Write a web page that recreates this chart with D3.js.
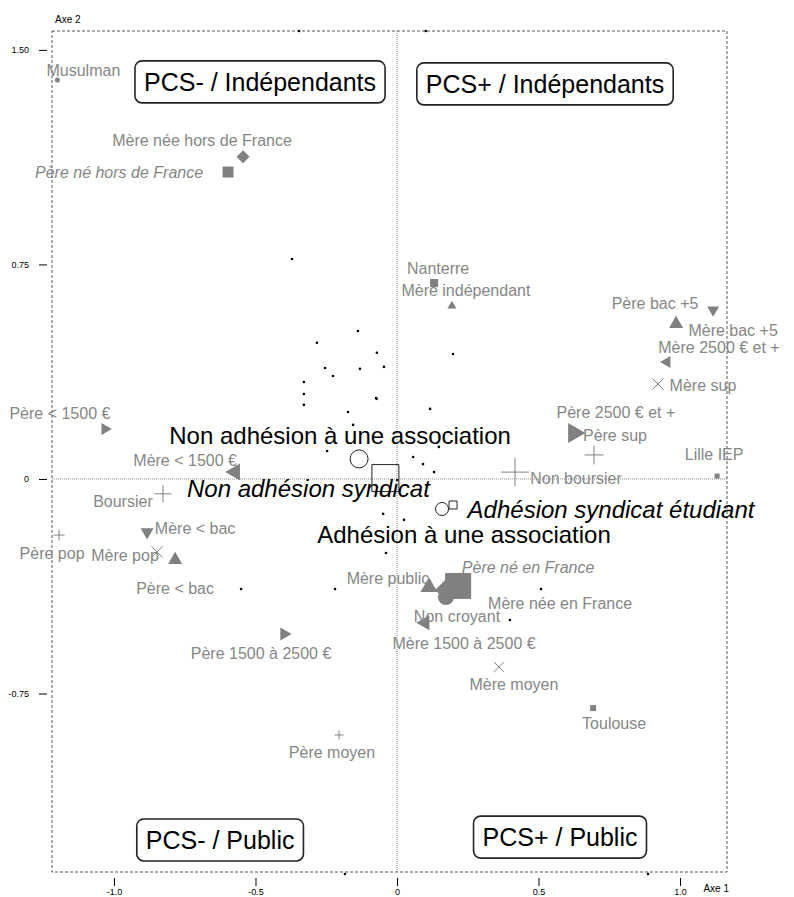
<!DOCTYPE html>
<html><head><meta charset="utf-8">
<script src="https://cdn.jsdelivr.net/npm/d3@7"></script>
<style>body{margin:0;background:#fff} svg{display:block;font-family:"Liberation Sans",Arial,Helvetica,sans-serif}</style>
</head><body><svg id="c" width="794" height="897"></svg>
<script>
// ---------- DATA ----------
const categories = ["Musulman","Mère née hors de France","Père né hors de France","Nanterre","Mère indépendant","Père bac +5","Mère bac +5","Mère 2500 € et +","Mère sup","Père 2500 € et +","Père sup","Non boursier","Lille IEP","Père < 1500 €","Mère < 1500 €","Boursier","Père pop","Mère < bac","Mère pop","Père < bac","Père 1500 à 2500 €","Mère public","Mère née en France","Non croyant","Père né en France","Mère 1500 à 2500 €","Mère moyen","Toulouse","Père moyen"];
const axis1 = [-1.20,-0.544,-0.597,0.131,0.194,0.986,1.117,0.954,0.922,0.625,0.696,0.417,1.131,-1.032,-0.572,-0.827,-1.194,-0.883,-0.848,-0.784,-0.399,0.113,0.177,0.173,0.216,0.099,0.360,0.693,-0.205];
const axis2 = [1.395,1.126,1.073,0.685,0.605,0.542,0.591,0.409,0.332,0.161,0.084,0.024,0.010,0.175,0.024,-0.052,-0.196,-0.185,-0.255,-0.283,-0.542,-0.378,-0.388,-0.413,-0.374,-0.503,-0.657,-0.801,-0.895];

const supNames = ["Non adhésion à une association","Non adhésion syndicat","Adhésion syndicat étudiant","Adhésion à une association"];
const supAxis1 = [-0.134,-0.041,0.198,0.159];
const supAxis2 = [0.070,0.003,-0.091,-0.105];

const indAxis1 = [-0.371,-0.138,-0.283,-0.071,-0.254,-0.131,-0.046,-0.226,-0.329,-0.329,-0.329,-0.074,-0.072,-0.173,-0.155,-0.247,0.198,0.117,0.148,0.057,0.092,0.131,-0.049,0.025,-0.039,-0.219,-0.551,0.509,0.399,-0.346,0.102,-0.184,0.887];
const indAxis2 = [0.769,0.517,0.476,0.441,0.388,0.385,0.392,0.360,0.339,0.297,0.259,0.283,0.280,0.234,0.189,0.098,0.437,0.245,0.112,0.077,0.052,0.024,-0.122,-0.143,-0.259,-0.385,-0.385,-0.385,-0.493,1.566,1.566,-1.381,-1.381];

const quadLabels = ["PCS- / Indépendants","PCS+ / Indépendants","PCS- / Public","PCS+ / Public"];
const quadAxis1 = [-0.484,0.523,-0.625,0.576];
const quadAxis2 = [1.388,1.381,-1.262,-1.252];

const xTicks = [-1.0,-0.5,0,0.5,1.0];
const xTickLabels = ["-1.0","-0.5","0","0.5","1.0"];
const yTicks = [1.5,0.75,0,-0.75];
const yTickLabels = ["1.50","0.75","0","-0.75"];

// ---------- STYLE / LAYOUT (kept apart from data) ----------
const catShape = ["circle","diamond","square","square","triUp","triUp","triDown","triLeft","cross","triRight","plus","plus","square","triRight","triLeft","plus","plus","triDown","cross","triUp","triRight","triUp","diamond","circle","square","triLeft","cross","square","plus"];
const catSize  = [5,13,11,8,9,14,12,12,11,20,19,28,5,12,17,17,11,13,11,14,13,17,24,16,26,15,10,6,9];
const catItalic = [0,0,1,0,0,0,0,0,0,0,0,0,0,0,0,0,0,0,0,0,0,0,0,0,1,0,0,0,0];
const catLabelOffset = [[26,-10],[-41,-16],[-109,0],[4,-15],[14,-15],[-21,-21],[20,20],[52,-15],[45,1],[42,-21],[21,-20],[61,6],[-3,-22],[-45,-16],[-50,-12],[-40,8],[-7,18],[48,-3],[-32,3],[0,28],[-23,19],[-41,-9],[113,13],[11,19],[70,-19],[39,21],[15,18],[21,15],[-7,17]];
const supShape = ["circle","square","square","circle"];
const supSize = [18,27,8,13];
const supItalic = [0,1,1,0];
const supLabelOffset = [[-19,-23],[-77,10],[158,5],[22,26]];

const GREY = "#808080", LABEL_GREY = "#868686";

// ---------- SCALES ----------
const svg = d3.select("#c");
const x = d3.scaleLinear().domain([-1.219, 1.166]).range([52, 727]);
const y = d3.scaleLinear().domain([-1.374, 1.566]).range([872, 31]);

function shapePath(type, w) {
  const h = w / 2, t = w * Math.sqrt(3) / 2;
  const tri = `M0,${-t*2/3}L${h},${t/3}L${-h},${t/3}Z`;
  switch (type) {
    case "square": return `M${-h},${-h}H${h}V${h}H${-h}Z`;
    case "diamond": return `M0,${-h}L${h},0L0,${h}L${-h},0Z`;
    case "triUp": case "triDown": case "triLeft": case "triRight": return tri;
    case "plus": return `M${-h},0H${h}M0,${-h}V${h}`;
    case "cross": return `M${-h},${-h}L${h},${h}M${h},${-h}L${-h},${h}`;
    default: return d3.symbol(d3.symbolCircle, Math.PI * h * h)();
  }
}
const rot = {triUp:0, triDown:180, triLeft:-90, triRight:90};

// ---------- FRAME & REFERENCE LINES ----------
svg.append("rect").attr("x", x(-1.219)).attr("y", y(1.566))
  .attr("width", x(1.166) - x(-1.219)).attr("height", y(-1.374) - y(1.566))
  .attr("fill", "none").attr("stroke", "#555").attr("stroke-width", 1).attr("stroke-dasharray", "3,2");
svg.append("line").attr("x1", x(-1.219)).attr("x2", x(1.166)).attr("y1", y(0)).attr("y2", y(0))
  .attr("stroke", "#666").attr("stroke-width", 0.8).attr("stroke-dasharray", "1,1");
svg.append("line").attr("x1", x(0)).attr("x2", x(0)).attr("y1", y(1.566)).attr("y2", y(-1.374))
  .attr("stroke", "#666").attr("stroke-width", 0.8).attr("stroke-dasharray", "1,1");

// ---------- AXES ----------
const xAxis = d3.axisBottom(x).tickValues(xTicks).tickSize(8).tickPadding(3)
  .tickFormat((d, i) => xTickLabels[i]);
const gx = svg.append("g").attr("transform", "translate(0,878)").call(xAxis);
gx.select(".domain").remove();
gx.selectAll("text").attr("font-size", 9).attr("font-family", "Liberation Sans, Arial, sans-serif");

const yAxis = d3.axisLeft(y).tickValues(yTicks).tickSize(8).tickPadding(10)
  .tickFormat((d, i) => yTickLabels[i]);
const gy = svg.append("g").attr("transform", "translate(47,0)").call(yAxis);
gy.select(".domain").remove();
gy.selectAll("text").attr("font-size", 9).attr("font-family", "Liberation Sans, Arial, sans-serif");

svg.append("text").attr("x", 55).attr("y", 23).attr("font-size", 10).text("Axe 2");
svg.append("text").attr("x", 729).attr("y", 892).attr("text-anchor", "end").attr("font-size", 10).text("Axe 1");

// ---------- INDIVIDUALS ----------
svg.append("g").selectAll("circle").data(indAxis1).join("circle")
  .attr("cx", d => x(d)).attr("cy", (d, i) => y(indAxis2[i])).attr("r", 1.3).attr("fill", "#000");

// ---------- CATEGORY MARKERS ----------
const cat = categories.map((c, i) => ({name: c, a1: axis1[i], a2: axis2[i], shape: catShape[i], size: catSize[i], italic: catItalic[i], off: catLabelOffset[i]}));
svg.append("g").selectAll("path").data(cat).join("path")
  .attr("transform", d => `translate(${x(d.a1)},${y(d.a2)}) rotate(${rot[d.shape] || 0})`)
  .attr("d", d => shapePath(d.shape, d.size))
  .attr("fill", d => (d.shape === "plus" || d.shape === "cross") ? "none" : GREY)
  .attr("stroke", d => (d.shape === "plus" || d.shape === "cross") ? GREY : "none")
  .attr("stroke-width", 1);

svg.append("g").selectAll("text").data(cat).join("text")
  .attr("x", d => x(d.a1) + d.off[0]).attr("y", d => y(d.a2) + d.off[1]).attr("dy", "0.35em")
  .attr("text-anchor", "middle").attr("font-size", 16).attr("fill", LABEL_GREY)
  .attr("font-style", d => d.italic ? "italic" : "normal")
  .text(d => d.name);

// ---------- SUPPLEMENTARY (black) ----------
const sup = supNames.map((c, i) => ({name: c, a1: supAxis1[i], a2: supAxis2[i], shape: supShape[i], size: supSize[i], italic: supItalic[i], off: supLabelOffset[i]}));
svg.append("g").selectAll("path").data(sup).join("path")
  .attr("transform", d => `translate(${x(d.a1)},${y(d.a2)})`)
  .attr("d", d => shapePath(d.shape, d.size))
  .attr("fill", "none").attr("stroke", "#222").attr("stroke-width", 1);
svg.append("g").selectAll("text").data(sup).join("text")
  .attr("x", d => x(d.a1) + d.off[0]).attr("y", d => y(d.a2) + d.off[1]).attr("dy", "0.35em")
  .attr("text-anchor", "middle").attr("font-size", 24).attr("fill", "#000")
  .attr("font-style", d => d.italic ? "italic" : "normal")
  .text(d => d.name);

// ---------- QUADRANT BOXES ----------
const qg = svg.append("g").selectAll("g").data(quadLabels).join("g")
  .attr("transform", (d, i) => `translate(${x(quadAxis1[i])},${y(quadAxis2[i])})`);
qg.append("text").attr("text-anchor", "middle").attr("dy", "0.35em").attr("font-size", 25).attr("fill", "#000").text(d => d);
qg.each(function() {
  const g = d3.select(this);
  const bb = g.select("text").node().getBBox();
  g.insert("rect", "text").attr("x", bb.x - 9).attr("y", -21).attr("width", bb.width + 18).attr("height", 42)
    .attr("rx", 7).attr("fill", "#fff").attr("stroke", "#222").attr("stroke-width", 1.6);
});
</script></body></html>
